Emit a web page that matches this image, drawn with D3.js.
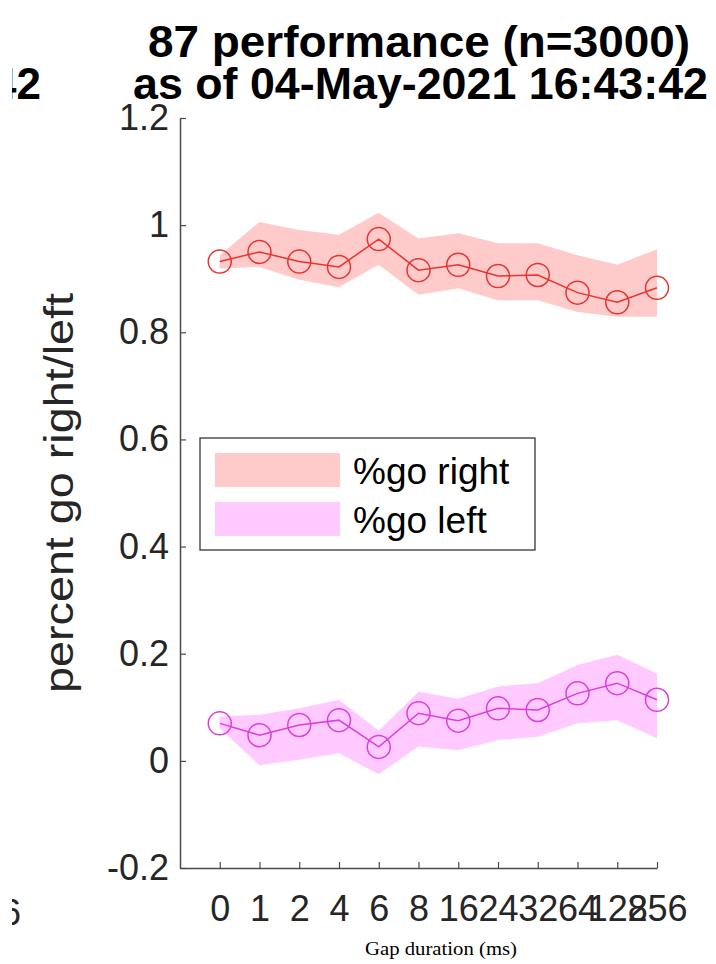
<!DOCTYPE html>
<html>
<head>
<meta charset="utf-8">
<script src="https://cdn.jsdelivr.net/npm/d3@7"></script>
<style>
  html, body { margin: 0; padding: 0; background: #fff; }
  svg { display: block; }
</style>
</head>
<body>
<script>
// ---- data ----
const categories = ["0","1","2","4","6","8","16","24","32","64","128","256"];
const rightMean  = [0.932,0.950,0.932,0.922,0.974,0.916,0.926,0.905,0.907,0.874,0.856,0.883];
const rightUpper = [0.944,1.006,0.991,0.982,1.023,0.975,0.985,0.966,0.966,0.944,0.926,0.955];
const rightLower = [0.919,0.922,0.898,0.884,0.926,0.870,0.882,0.860,0.860,0.838,0.829,0.829];
const leftMean   = [0.070,0.048,0.067,0.076,0.026,0.089,0.075,0.098,0.095,0.126,0.145,0.114];
const leftUpper  = [0.083,0.086,0.098,0.114,0.056,0.129,0.116,0.139,0.145,0.179,0.198,0.163];
const leftLower  = [0.061,-0.008,0.002,0.014,-0.025,0.027,0.020,0.039,0.045,0.070,0.076,0.042];
const yTicks = [-0.2,0,0.2,0.4,0.6,0.8,1,1.2];
const titleLines = ["87 performance (n=3000)", "as of 04-May-2021 16:43:42"];
const legendLabels = ["%go right", "%go left"];

const W = 716, H = 964;
const svg = d3.select("body").append("svg").attr("width", W).attr("height", H)
  .style("font-family", "'Liberation Sans', Arial, Helvetica, sans-serif");

const x = d3.scaleLinear().domain([0, 12]).range([180, 657]);
const y = d3.scaleLinear().domain([-0.2, 1.2]).range([868, 118]);
const xi = i => x(i + 1);

const series = [
  { mean: rightMean, up: rightUpper, lo: rightLower, band: "#ffcaca", line: "#e8332e" },
  { mean: leftMean,  up: leftUpper,  lo: leftLower,  band: "#ffcaff", line: "#dc3edc" }
];

const area = d3.area().x((d, i) => xi(i)).y0(d => y(d[0])).y1(d => y(d[1]));
const line = d3.line().x((d, i) => xi(i)).y(d => y(d));

const plot = svg.append("g");
series.forEach(s => {
  const pts = s.lo.map((v, i) => [v, s.up[i]]);
  plot.append("path").datum(pts).attr("d", area).attr("fill", s.band).attr("stroke", "none");
});
series.forEach(s => {
  plot.append("path").datum(s.mean).attr("d", line)
    .attr("fill", "none").attr("stroke", s.line).attr("stroke-width", 1.5);
  plot.selectAll(null).data(s.mean).enter().append("circle")
    .attr("cx", (d, i) => xi(i)).attr("cy", d => y(d)).attr("r", 11.5)
    .attr("fill", "none").attr("stroke", s.line).attr("stroke-width", 1.5);
});

// ---- axes ----
const axisColor = "#4a4a4a";
const yAxis = d3.axisLeft(y).tickValues(yTicks)
  .tickFormat(d => String(+d.toFixed(1)))
  .tickSizeInner(-6).tickSizeOuter(0).tickPadding(11);
const gy = svg.append("g").attr("transform", `translate(${x(0)},0)`).call(yAxis);

const xAxis = d3.axisBottom(x).tickValues(d3.range(1, 13))
  .tickFormat(d => categories[d - 1])
  .tickSizeInner(-6).tickSizeOuter(0).tickPadding(27);
const gx = svg.append("g").attr("transform", `translate(0,${y(-0.2)})`).call(xAxis);

[gx, gy].forEach(g => {
  g.select(".domain").attr("stroke", axisColor).attr("stroke-width", 1.5);
  g.selectAll(".tick line").attr("stroke", axisColor).attr("stroke-width", 1.2);
  g.selectAll(".tick text").attr("fill", "#262626")
    .style("font-family", "'Liberation Sans', Arial, sans-serif").style("font-size", "36px");
});

// y label
svg.append("text")
  .attr("transform", `translate(73,${(y(1.2) + y(-0.2)) / 2}) rotate(-90)`)
  .attr("text-anchor", "middle").attr("fill", "#262626")
  .style("font-size", "40px").attr("textLength", 400).attr("lengthAdjust", "spacingAndGlyphs")
  .text("percent go right/left");

// x label
svg.append("text")
  .attr("x", 441).attr("y", 955).attr("text-anchor", "middle").attr("fill", "#000")
  .style("font-family", "'Liberation Serif', 'DejaVu Serif', serif").style("font-size", "19px")
  .attr("textLength", 152).attr("lengthAdjust", "spacingAndGlyphs")
  .text("Gap duration (ms)");

// title
const tl = [[148, 690, 57], [133, 708, 99]];
titleLines.forEach((t, i) => {
  svg.append("text")
    .attr("x", tl[i][0]).attr("y", tl[i][2]).attr("fill", "#000")
    .style("font-size", "44px").style("font-weight", "bold")
    .attr("textLength", tl[i][1] - tl[i][0]).attr("lengthAdjust", "spacingAndGlyphs")
    .text(t);
});

// legend
const lg = svg.append("g");
lg.append("rect").attr("x", 200).attr("y", 438).attr("width", 335).attr("height", 112)
  .attr("fill", "#fff").attr("stroke", "#262626").attr("stroke-width", 1.2);
legendLabels.forEach((t, i) => {
  const yy = 453 + i * 49;
  lg.append("rect").attr("x", 215).attr("y", yy).attr("width", 125).attr("height", 34)
    .attr("fill", series[i].band);
  lg.append("text").attr("x", 353).attr("y", yy + 31).attr("fill", "#000")
    .style("font-size", "37px").text(t);
});

// fragments of neighbouring panels, clipped at the left edge
svg.append("clipPath").attr("id", "edge").append("rect")
  .attr("x", 12).attr("y", 0).attr("width", 60).attr("height", H);
const frag = svg.append("g").attr("clip-path", "url(#edge)");
frag.append("text").attr("x", 41).attr("y", 99).attr("text-anchor", "end")
  .style("font-size", "44px").style("font-weight", "bold").attr("fill", "#000").text("42");
frag.append("text").attr("x", 21).attr("y", 925).attr("text-anchor", "end")
  .style("font-size", "36px").attr("fill", "#262626").text("256");
</script>
</body>
</html>
